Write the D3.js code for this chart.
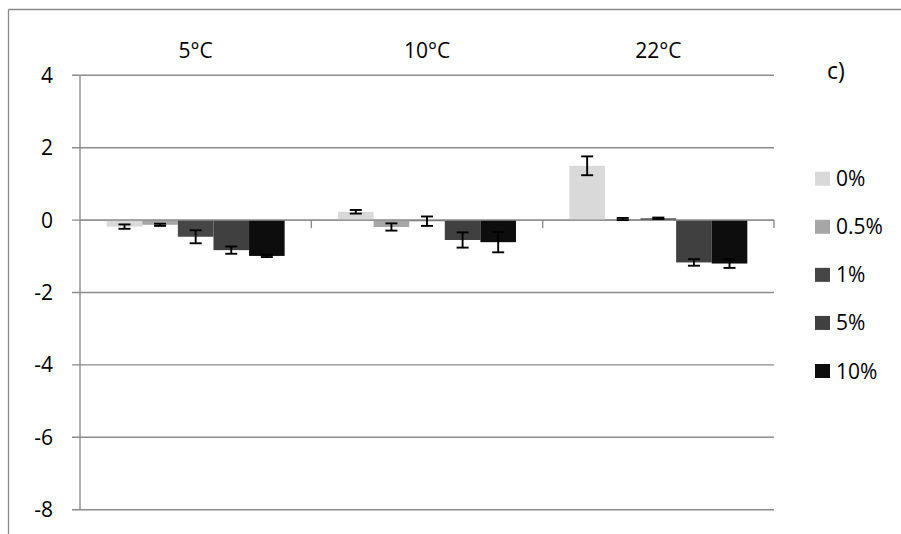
<!DOCTYPE html>
<html>
<head>
<meta charset="utf-8">
<script src="https://cdn.jsdelivr.net/npm/d3@7"></script>
<style>
  html, body { margin: 0; padding: 0; background: #fff; }
  svg { display: block; }
  text { font-family: "Open Sans", "Liberation Sans", sans-serif; fill: #000; }
</style>
</head>
<body>
<svg id="chart" width="901" height="534"></svg>
<script>
// ---- data ----
const categories = ["5°C", "10°C", "22°C"];
const seriesNames = ["0%", "0.5%", "1%", "5%", "10%"];
const seriesColors = ["#d9d9d9", "#a6a6a6", "#464646", "#404040", "#0d0d0d"];
// values[series][category]
const values0   = [-0.18,  0.23,  1.50];
const values05  = [-0.13, -0.19,  0.03];
const values1   = [-0.46, -0.03,  0.05];
const values5   = [-0.83, -0.55, -1.17];
const values10  = [-0.99, -0.61, -1.20];
const errors0   = [0.06, 0.05, 0.26];
const errors05  = [0.03, 0.10, 0.03];
const errors1   = [0.18, 0.13, 0.02];
const errors5   = [0.10, 0.21, 0.09];
const errors10  = [0.03, 0.28, 0.12];
const yTicks = [4, 2, 0, -2, -4, -6, -8];
const panelLabel = "c)";

const allValues = [values0, values05, values1, values5, values10];
const allErrors = [errors0, errors05, errors1, errors5, errors10];

const data = [];
categories.forEach((c, ci) => {
  seriesNames.forEach((s, si) => {
    data.push({cat: c, series: s, value: allValues[si][ci], err: allErrors[si][ci], color: seriesColors[si]});
  });
});

const svg = d3.select("#chart");
const gridColor = "#8c8c8c";

// outer frame (top and left edges visible)
svg.append("line").attr("x1", 8.5).attr("x2", 901).attr("y1", 9.5).attr("y2", 9.5)
  .attr("stroke", "#8a8a8a").attr("stroke-width", 1.3);
svg.append("line").attr("x1", 8.5).attr("x2", 8.5).attr("y1", 9.5).attr("y2", 534)
  .attr("stroke", "#8a8a8a").attr("stroke-width", 1.3);

const left = 80, right = 774;
const y = d3.scaleLinear().domain([-8, 4]).range([509.7, 75.3]);
const x0 = d3.scaleBand().domain(categories).range([left, right]).paddingInner(0).paddingOuter(0);
const x1 = d3.scaleBand().domain(seriesNames).range([0, x0.bandwidth()]).paddingInner(0).paddingOuter(0.75);

// gridlines
svg.append("g").selectAll("line").data(yTicks).join("line")
  .attr("x1", left - 8).attr("x2", right)
  .attr("y1", d => y(d)).attr("y2", d => y(d))
  .attr("stroke", gridColor).attr("stroke-width", 1.4);

// y axis line
svg.append("line").attr("x1", left).attr("x2", left).attr("y1", y(4)).attr("y2", y(-8))
  .attr("stroke", gridColor).attr("stroke-width", 1.4);

// y tick labels
svg.append("g").selectAll("text").data(yTicks).join("text")
  .attr("x", 53).attr("y", d => y(d)).attr("dy", "0.36em")
  .attr("text-anchor", "end").attr("font-size", 21)
  .text(d => d);

// bars
const bars = svg.append("g");
bars.selectAll("rect").data(data).join("rect")
  .attr("x", d => x0(d.cat) + x1(d.series))
  .attr("width", x1.bandwidth())
  .attr("y", d => y(Math.max(0, d.value)))
  .attr("height", d => Math.abs(y(d.value) - y(0)))
  .attr("fill", d => d.color);

// category axis at zero with tick marks down
svg.append("line").attr("x1", left).attr("x2", right).attr("y1", y(0)).attr("y2", y(0))
  .attr("stroke", gridColor).attr("stroke-width", 1.4);
const catEdges = categories.map(c => x0(c) + x0.bandwidth());
svg.append("g").selectAll("line").data(catEdges).join("line")
  .attr("x1", d => d).attr("x2", d => d)
  .attr("y1", y(0)).attr("y2", y(0) + 8)
  .attr("stroke", gridColor).attr("stroke-width", 1.4);

// error bars
const eb = svg.append("g").attr("stroke", "#000").attr("stroke-width", 1.9);
data.forEach(d => {
  const cx = x0(d.cat) + x1(d.series) + x1.bandwidth() / 2;
  const yt = y(d.value + d.err), yb = y(d.value - d.err);
  eb.append("line").attr("x1", cx).attr("x2", cx).attr("y1", yt).attr("y2", yb);
  eb.append("line").attr("x1", cx - 6).attr("x2", cx + 6).attr("y1", yt).attr("y2", yt);
  eb.append("line").attr("x1", cx - 6).attr("x2", cx + 6).attr("y1", yb).attr("y2", yb);
});

// category labels at top
svg.append("g").selectAll("text").data(categories).join("text")
  .attr("x", d => x0(d) + x0.bandwidth() / 2)
  .attr("y", 58)
  .attr("text-anchor", "middle").attr("font-size", 21)
  .text(d => d);

// panel label
svg.append("text").attr("x", 827).attr("y", 79).attr("font-size", 23).text(panelLabel);

// legend
const legendY = d3.scalePoint().domain(seriesNames).range([178.7, 371]);
const lg = svg.append("g").selectAll("g").data(seriesNames).join("g")
  .attr("transform", d => `translate(815,${legendY(d)})`);
lg.append("rect").attr("x", 0).attr("y", -7).attr("width", 15).attr("height", 14)
  .attr("fill", (d, i) => seriesColors[i]);
lg.append("text").attr("x", 21).attr("y", 0).attr("dy", "0.36em").attr("font-size", 21)
  .text(d => d);
</script>
</body>
</html>
